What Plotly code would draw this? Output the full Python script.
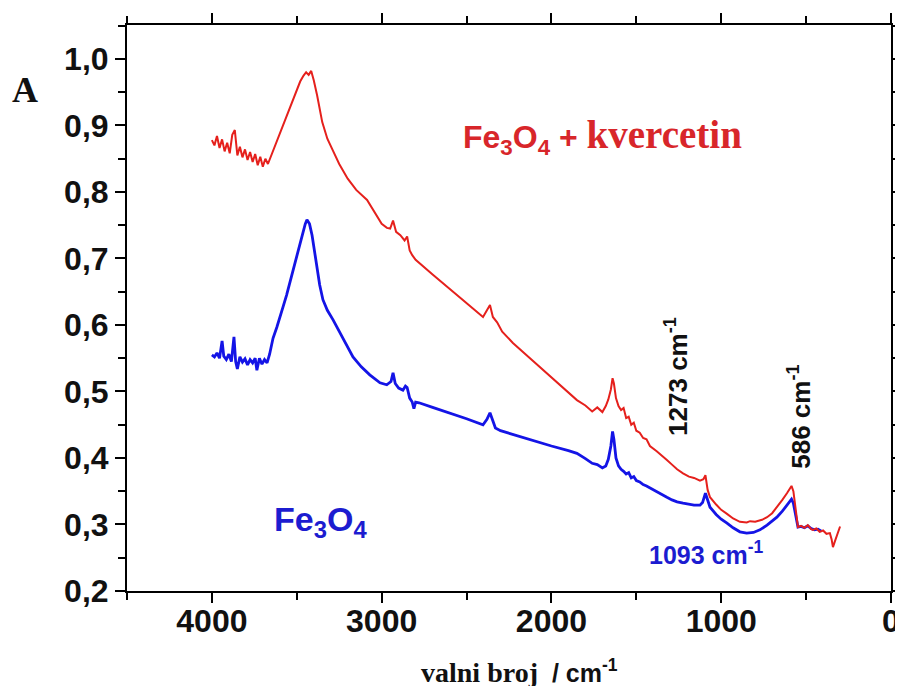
import plotly.graph_objects as go

# Fe3O4 + kvercetin (red)
red_wn = [4000,3985,3970,3955,3940,3925,3910,3895,3880,3865,3850,3835,3820,3805,3790,3775,3760,3745,3730,3715,
          3700,3685,3670,3655,3640,3620,3600,3580,3560,3540,3520,3500,3480,3460,3445,3430,3415,3400,3380,3350,
          3320,3287,3250,3200,3150,3086,3040,3000,2969,2950,2933,2915,2890,2865,2850,2835,2820,2800,2700,2600,
          2500,2403,2380,2362,2345,2320,2290,2260,2227,2100,2000,1900,1850,1800,1760,1730,1700,1680,1665,1650,
          1640,1632,1620,1605,1590,1575,1560,1545,1530,1515,1500,1480,1460,1440,1420,1380,1350,1320,1290,1260,
          1225,1190,1160,1125,1105,1093,1080,1066,1030,1000,966,930,890,850,830,800,760,730,700,672,
          640,613,595,586,575,560,548,530,510,490,470,460,440,420,400,380,360,350,342,330,
          315,300]
red_abs = [0.878,0.870,0.884,0.866,0.879,0.861,0.874,0.858,0.886,0.893,0.855,0.868,0.852,0.864,0.848,0.860,0.845,0.857,0.840,0.853,
           0.838,0.850,0.842,0.852,0.862,0.873,0.888,0.900,0.915,0.928,0.942,0.955,0.966,0.975,0.980,0.976,0.982,0.968,0.945,0.905,
           0.880,0.862,0.842,0.820,0.803,0.788,0.768,0.752,0.746,0.745,0.757,0.740,0.735,0.727,0.733,0.712,0.705,0.698,0.676,0.654,
           0.633,0.612,0.622,0.630,0.612,0.604,0.590,0.582,0.573,0.544,0.521,0.498,0.487,0.479,0.470,0.476,0.469,0.478,0.488,0.503,
           0.520,0.512,0.490,0.478,0.472,0.475,0.460,0.462,0.450,0.453,0.441,0.438,0.430,0.428,0.418,0.410,0.404,0.397,0.390,0.383,
           0.377,0.372,0.370,0.366,0.368,0.374,0.352,0.341,0.330,0.322,0.316,0.309,0.304,0.303,0.305,0.304,0.307,0.311,0.317,0.326,
           0.337,0.347,0.355,0.358,0.350,0.318,0.296,0.298,0.295,0.299,0.293,0.292,0.294,0.289,0.291,0.286,0.287,0.278,0.266,0.275,
           0.285,0.297]

# Fe3O4 (blue)
blue_wn = [4000,3985,3970,3955,3940,3930,3915,3900,3885,3870,3860,3850,3835,3820,3805,3790,3775,3760,3745,3735,
           3720,3705,3690,3675,3660,3640,3617,3600,3580,3560,3540,3520,3500,3480,3460,3450,3440,3425,3410,3395,
           3380,3365,3346,3320,3287,3240,3200,3169,3120,3070,3010,2970,2945,2933,2920,2900,2875,2860,2850,2835,
           2820,2810,2800,2780,2700,2600,2500,2403,2380,2362,2345,2330,2300,2200,2100,2000,1900,1850,1800,1760,
           1730,1700,1680,1665,1650,1640,1632,1620,1605,1590,1575,1560,1545,1530,1515,1500,1480,1460,1440,1420,
           1380,1350,1320,1290,1260,1225,1190,1160,1125,1110,1093,1080,1066,1030,1000,966,930,890,850,810,
           772,730,700,672,640,613,595,586,575,560,548,530,510,490,470,450,430,410]
blue_abs = [0.555,0.552,0.558,0.550,0.576,0.553,0.548,0.556,0.545,0.582,0.545,0.534,0.552,0.544,0.549,0.540,0.548,0.543,0.550,0.532,
            0.550,0.541,0.548,0.543,0.556,0.580,0.597,0.610,0.628,0.645,0.665,0.685,0.705,0.725,0.745,0.752,0.758,0.752,0.735,0.712,
            0.685,0.660,0.638,0.622,0.608,0.585,0.566,0.552,0.537,0.525,0.513,0.510,0.515,0.528,0.512,0.505,0.502,0.508,0.506,0.490,
            0.484,0.474,0.484,0.483,0.476,0.468,0.459,0.450,0.458,0.468,0.456,0.445,0.441,0.433,0.425,0.418,0.411,0.407,0.399,0.392,
            0.390,0.385,0.388,0.398,0.418,0.440,0.428,0.400,0.388,0.383,0.380,0.376,0.378,0.370,0.372,0.366,0.364,0.360,0.358,0.355,
            0.350,0.345,0.341,0.337,0.334,0.332,0.330,0.329,0.329,0.333,0.347,0.335,0.326,0.315,0.308,0.302,0.295,0.289,0.287,0.288,
            0.292,0.299,0.305,0.311,0.320,0.330,0.336,0.338,0.332,0.310,0.296,0.297,0.295,0.298,0.294,0.292,0.293,0.290]

x_tickvals = [4000, 3000, 2000, 1000, 0]
y_tickvals = [0.2, 0.3, 0.4, 0.5, 0.6, 0.7, 0.8, 0.9, 1.0]

RED = "#e5201c"
BLUE = "#1414e6"
SANS = "Liberation Sans, Arial, sans-serif"
SERIF = "Liberation Serif, Times New Roman, serif"

fig = go.Figure()
fig.add_trace(go.Scatter(x=blue_wn, y=blue_abs, mode="lines", line=dict(color=BLUE, width=2.8), showlegend=False))
fig.add_trace(go.Scatter(x=red_wn, y=red_abs, mode="lines", line=dict(color=RED, width=2.0), showlegend=False))

axis_common = dict(
    showline=True, linecolor="black", linewidth=2, mirror="allticks",
    ticks="outside", ticklen=10, tickwidth=2, tickcolor="black",
    showgrid=False, zeroline=False, automargin=False,
    tickfont=dict(family=SANS, size=32, color="#111111", weight="bold"),
)

# page body has an 8px margin: figure sits at (8, 8)
fig.update_layout(
    width=895, height=678,
    margin=dict(l=119, r=12, t=17, b=95),
    paper_bgcolor="white", plot_bgcolor="white",
    separators=",.",
    xaxis=dict(range=[4500, 0], tickvals=x_tickvals, ticklabelstandoff=-9,
               minor=dict(dtick=500, tick0=0, ticks="outside", ticklen=7, tickwidth=2, tickcolor="black"),
               **axis_common),
    yaxis=dict(range=[0.2, 1.051], tickvals=y_tickvals, tickformat=".1f", ticklabelstandoff=0,
               minor=dict(dtick=0.05, tick0=0.2, ticks="outside", ticklen=7, tickwidth=2, tickcolor="black"),
               **axis_common),
)

ann = [
    dict(x=1702, y=0.883, xref="x", yref="y",
         text="<b>Fe<sub>3</sub>O<sub>4</sub> + </b><span style='font-family:Liberation Serif, Times New Roman, serif;font-size:39px'><b>kvercetin</b></span>",
         font=dict(family=SANS, size=32, color="#d8262a")),
    dict(x=3363, y=0.304, xref="x", yref="y",
         text="<b>Fe<sub>3</sub>O<sub>4</sub></b>",
         font=dict(family=SANS, size=34, color="#1c1cd0")),
    dict(x=1084, y=0.257, xref="x", yref="y",
         text="<b>1093 cm<sup>-1</sup></b>",
         font=dict(family=SANS, size=25, color="#1c1cd0")),
    dict(x=1260, y=0.522, xref="x", yref="y", textangle=-90,
         text="<b>1273 cm<sup>-1</sup></b>",
         font=dict(family=SANS, size=26, color="#111111")),
    dict(x=536, y=0.462, xref="x", yref="y", textangle=-90,
         text="<b>586 cm<sup>-1</sup></b>",
         font=dict(family=SANS, size=26, color="#111111")),
    dict(x=-0.133, y=0.885, xref="paper", yref="paper",
         text="<b>A</b>", font=dict(family=SERIF, size=36, color="#111111")),
    dict(x=0.514, y=-0.143, xref="paper", yref="paper",
         text="<b>valni broj</b>  <span style='font-family:Liberation Sans, Arial, sans-serif;font-size:25px'><b>/ cm<sup>-1</sup></b></span>",
         font=dict(family=SERIF, size=28, color="#111111")),
]
for a in ann:
    a.update(showarrow=False, xanchor="center", yanchor="middle")
fig.update_layout(annotations=ann)

fig.write_html("out.html")
